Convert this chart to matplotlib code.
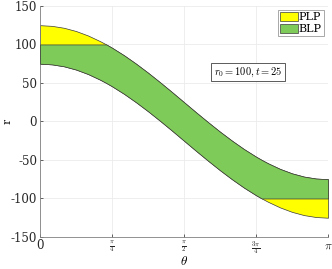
import numpy as np
import matplotlib
matplotlib.use("Agg")
import matplotlib.pyplot as plt

plt.rcParams['mathtext.fontset'] = 'cm'
plt.rcParams['font.family'] = ['DejaVu Serif']

theta_deg = [0, 7.5, 15, 22.5, 30, 37.5, 41.4, 45, 52.5, 60, 67.5, 75, 82.5, 90,
             97.5, 105, 112.5, 120, 127.5, 135, 138.6, 142.5, 150, 157.5, 165, 172.5, 180]
plp_upper = [125, 124.1, 121.6, 117.4, 111.6, 104.3, 100.0, 95.7, 85.9, 75.0, 63.3, 50.9, 38.1, 25.0,
             11.9, -0.9, -13.3, -25.0, -35.9, -45.7, -50.0, -54.3, -61.6, -67.4, -71.6, -74.1, -75.0]
plp_lower = [75, 74.1, 71.6, 67.4, 61.6, 54.3, 50.0, 45.7, 35.9, 25.0, 13.3, 0.9, -11.9, -25.0,
             -38.1, -50.9, -63.3, -75.0, -85.9, -95.7, -100.0, -104.3, -111.6, -117.4, -121.6, -124.1, -125.0]
blp_upper = [100, 100, 100, 100, 100, 100, 100.0, 95.7, 85.9, 75.0, 63.3, 50.9, 38.1, 25.0,
             11.9, -0.9, -13.3, -25.0, -35.9, -45.7, -50.0, -54.3, -61.6, -67.4, -71.6, -74.1, -75.0]
blp_lower = [75, 74.1, 71.6, 67.4, 61.6, 54.3, 50.0, 45.7, 35.9, 25.0, 13.3, 0.9, -11.9, -25.0,
             -38.1, -50.9, -63.3, -75.0, -85.9, -95.7, -100.0, -100, -100, -100, -100, -100, -100]

xtick_labels = ['0', r'$\frac{\pi}{4}$', r'$\frac{\pi}{2}$', r'$\frac{3\pi}{4}$', r'$\pi$']
ytick_vals = [-150, -100, -50, 0, 50, 100, 150]

theta = np.deg2rad(theta_deg)

fig = plt.figure(figsize=(3.32, 2.69), dpi=100)
ax = fig.add_axes([0.1205, 0.119, 0.8675, 0.859])

ax.fill_between(theta, plp_lower, plp_upper, facecolor='#FFFF00', edgecolor='#3a3a3a',
                linewidth=0.5, label='PLP', zorder=2)
ax.fill_between(theta, blp_lower, blp_upper, facecolor='#7ECB5A', edgecolor='#3a3a3a',
                linewidth=0.5, label='BLP', zorder=3)

ax.set_xlim(0, np.pi)
ax.set_ylim(-150, 150)
ax.set_xticks([0, np.pi/4, np.pi/2, 3*np.pi/4, np.pi])
ax.set_xticklabels(xtick_labels)
ax.set_yticks(ytick_vals)
ax.set_yticklabels([str(v) for v in ytick_vals])
for lab in ax.get_yticklabels():
    lab.set_fontsize(8.5)
xl = ax.get_xticklabels()
for i, lab in enumerate(xl):
    lab.set_fontsize(8.5 if i in (0, 4) else 7)
ax.tick_params(direction='in', length=2.5, width=0.5, colors='#262626', pad=2)
ax.tick_params(axis='x', pad=1.5)
ax.grid(True, color='#EBEBEB', linewidth=0.6, zorder=0)
ax.set_axisbelow(True)
for s in ['top', 'right']:
    ax.spines[s].set_visible(False)
for s in ['left', 'bottom']:
    ax.spines[s].set_color('#808080')
    ax.spines[s].set_linewidth(0.6)

ax.set_xlabel(r'$\theta$', fontsize=9.5)
ax.xaxis.set_label_coords(0.5, -0.08)
ax.xaxis.label.set_verticalalignment('top')
ax.set_ylabel(r'$\mathrm{r}$', fontsize=10)
ax.yaxis.set_label_coords(-0.115, 0.5)
ax.yaxis.label.set_verticalalignment('center')

leg = ax.legend(loc='upper right', fontsize=8, frameon=True, fancybox=False,
                handlelength=1.6, handleheight=0.9, handletextpad=0.1,
                borderpad=0.15, labelspacing=0.1, borderaxespad=0.4)
leg.get_frame().set_edgecolor('#808080')
leg.get_frame().set_linewidth(0.6)

ax.text(2.27, 64, r'$r_0 = 100, t = 25$', fontsize=7.5, ha='center', va='center',
        bbox=dict(boxstyle='square,pad=0.25', facecolor='white', edgecolor='#404040', linewidth=0.6))

fig.savefig('out.png', dpi=100)
